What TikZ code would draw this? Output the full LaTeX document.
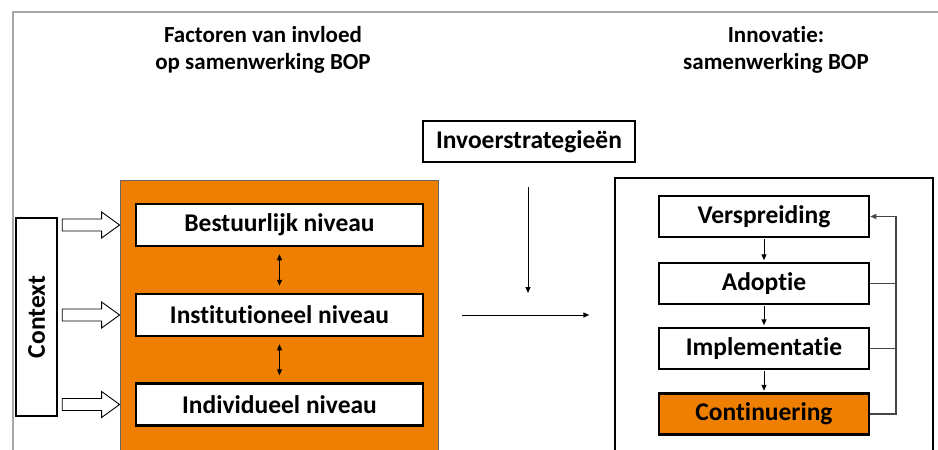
\documentclass[tikz,border=0pt]{standalone}
\usepackage{fontspec}
\setmainfont{Carlito}[Ligatures=NoCommon]
\usetikzlibrary{calc,arrows.meta}
\definecolor{orng}{RGB}{238,127,0}
\definecolor{fbgray}{RGB}{70,70,70}
\tikzset{
  txt/.style={font=\bfseries\fontsize{25.5}{28}\selectfont},
  ttl/.style={font=\bfseries\fontsize{23}{27}\selectfont, align=center},
  lvl/.style={txt, draw=black, line width=2.5pt, fill=white, minimum width=287, minimum height=42, inner sep=0pt},
  proc/.style={txt, draw=black, line width=2.5pt, fill=white, minimum width=210, minimum height=41, inner sep=0pt},
  hollow/.style={draw=black, line width=0.9pt, fill=white, line join=miter},
  arr/.style={-{Triangle[length=6pt,width=5pt]}, line width=1pt},
  darr/.style={{Triangle[length=6pt,width=5pt]}-{Triangle[length=6pt,width=5pt]}, line width=1pt},
  fb/.style={draw=fbgray, line width=1.2pt},
}
\begin{document}
\begin{tikzpicture}[x=1pt,y=-1pt]
\useasboundingbox (0,0) rectangle (938,450);
\fill[white] (0,0) rectangle (938,450);
\draw[gray!70, line width=1.5pt] (13,452) -- (13,12) -- (940,12);

% titles
\node[ttl] (t1) at (263,50) {Factoren van invloed\\op samenwerking BOP};
\node[ttl] (t2) at (776,50) {Innovatie:\\samenwerking BOP};

% invoerstrategieen
\node[txt, draw=black, line width=2.5pt, minimum width=212, minimum height=41, inner sep=0pt] (inv) at (529,141.5) {Invoerstrategieën};

% orange box
\node[draw=black!60, line width=0.8pt, fill=orng, minimum width=318, minimum height=290, inner sep=0pt] (fac) at (279,325) {};
\node[lvl] (b) at (279.5,225) {Bestuurlijk niveau};
\node[lvl] (i) at (279.5,315) {Institutioneel niveau};
\node[lvl] (d) at (279.5,404.5) {Individueel niveau};
\draw[darr, shorten <=7pt, shorten >=7pt] (b.south) -- (i.north);
\draw[darr, shorten <=7pt, shorten >=7pt] (i.south) -- (d.north);

% context
\node[txt, draw=black, line width=2.5pt, rotate=90, minimum width=198, minimum height=41, inner sep=0pt] (ctx) at (36.5,317) {Context};

% hollow arrows
\foreach \n in {b,i,d}{
  \path (ctx.south |- \n.west) coordinate (s\n);
  \draw[hollow] ($(s\n)+(4,-6)$) -- ($(fac.west |- \n.west)+(-18,-6)$) -- ($(fac.west |- \n.west)+(-18,-13)$)
     -- (fac.west |- \n.west) -- ($(fac.west |- \n.west)+(-18,13)$) -- ($(fac.west |- \n.west)+(-18,6)$)
     -- ($(s\n)+(4,6)$) -- cycle;
}

% right box
\node[draw=black, line width=1.3pt, fill=white, minimum width=318, minimum height=290, inner sep=0pt] (inn) at (774,323) {};
\node[proc] (v) at (764,216.5) {Verspreiding};
\node[proc] (a) at (764,283.5) {Adoptie};
\node[proc] (im) at (764,348.5) {Implementatie};
\node[proc, fill=orng] (c) at (764,414) {Continuering};
\draw[arr, shorten <=1pt, shorten >=1.5pt] (v.south) -- (a.north);
\draw[arr, shorten <=1pt, shorten >=1.5pt] (a.south) -- (im.north);
\draw[arr, shorten <=1pt, shorten >=1.5pt] (im.south) -- (c.north);

% feedback
\coordinate (fbx) at (896,0);
\draw[fb, -{Triangle[length=6pt,width=5pt]}] (c.east) -- (fbx |- c.east) -- (fbx |- v.east) -- (v.east);
\draw[fb] (a.east) -- (fbx |- a.east);
\draw[fb] (im.east) -- (fbx |- im.east);

% main arrows
\coordinate (vt) at (528,293);
\draw[arr] ($(inv.south)+(-1,24)$) -- (vt);
\draw[arr, shorten <=24pt, shorten >=25pt] (fac.east |- i.east) -- (inn.west |- i.east);
\end{tikzpicture}
\end{document}
